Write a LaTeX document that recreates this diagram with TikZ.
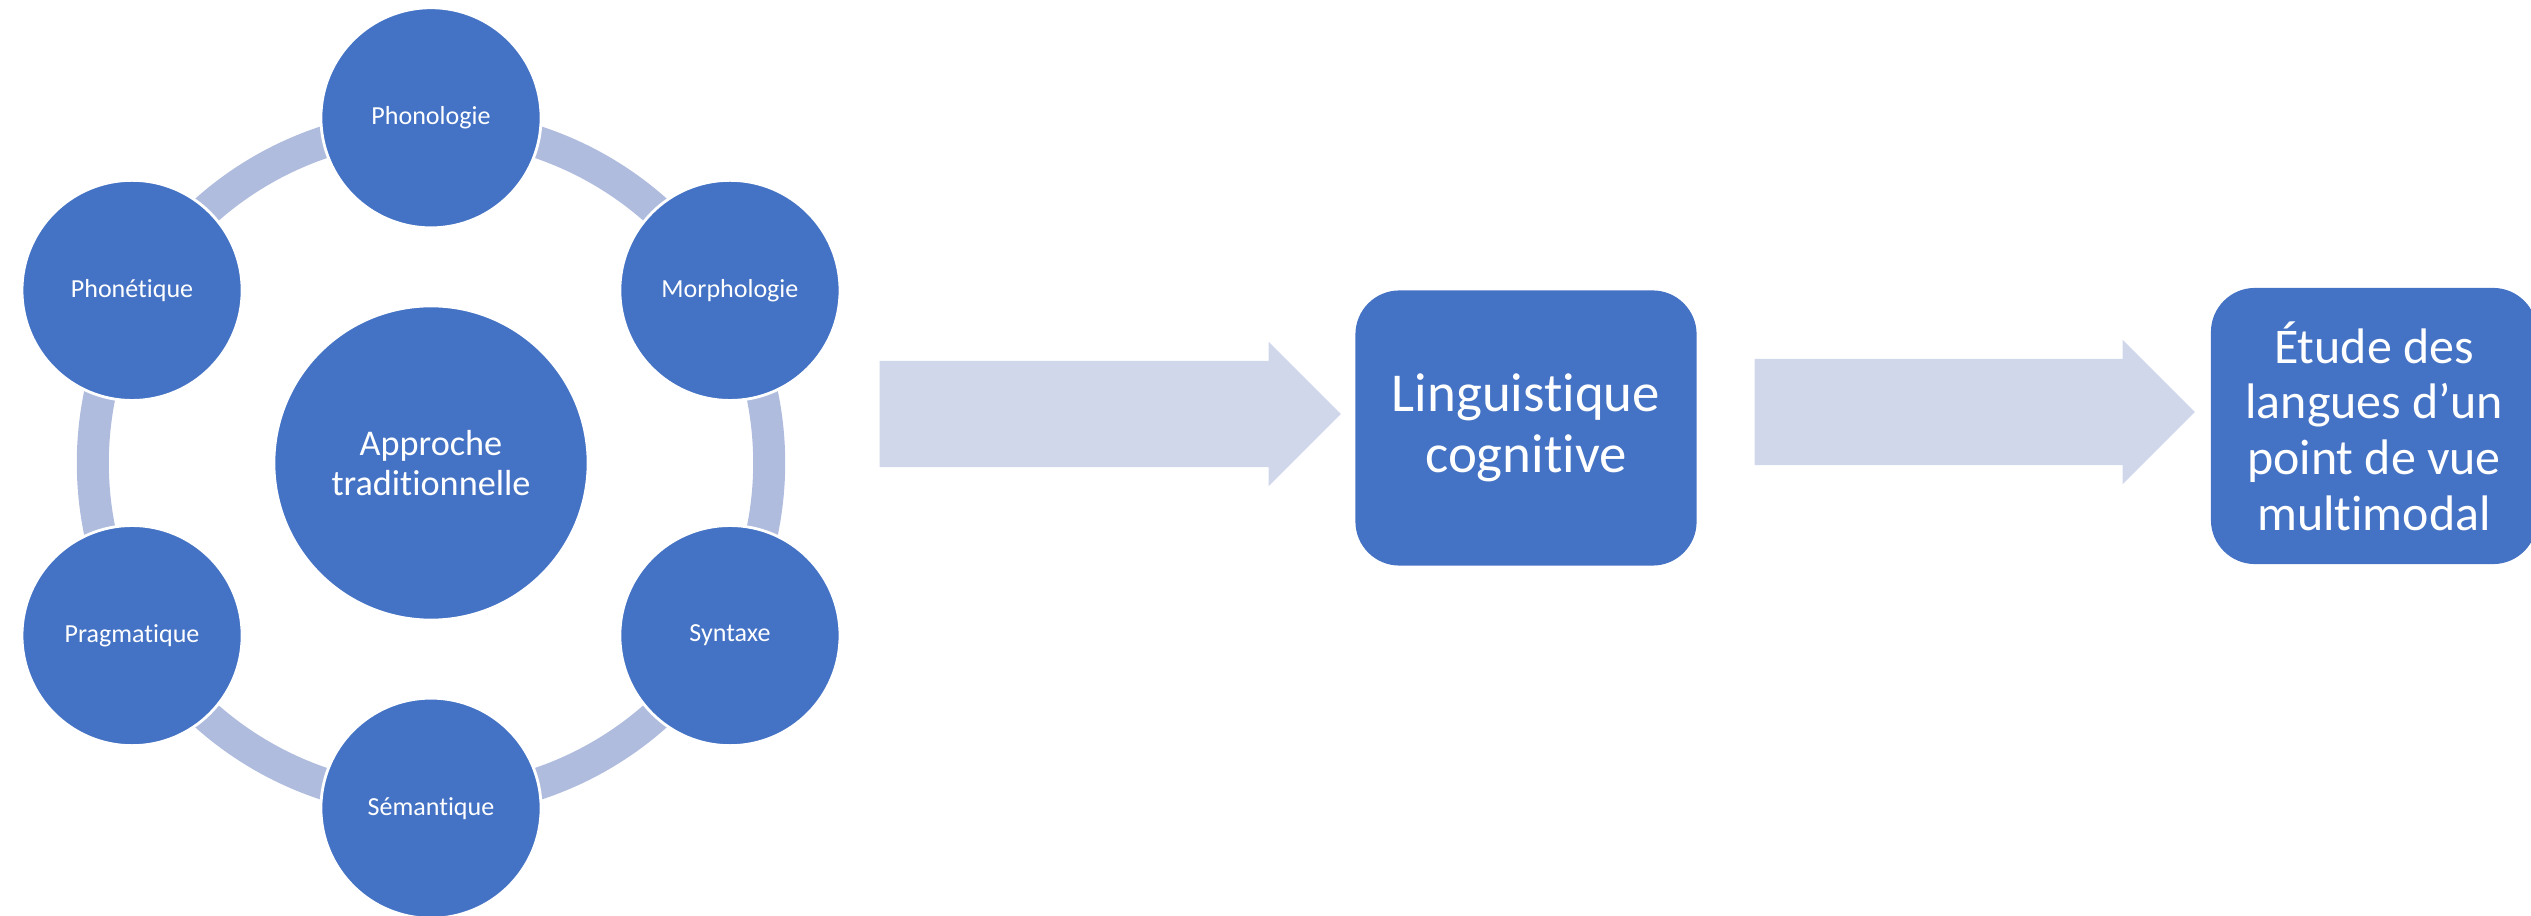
\documentclass[tikz,border=0pt]{standalone}
\usepackage{fontspec}
\setmainfont{Carlito}[Ligatures=NoCommon]
\usepackage{tikz}
\usetikzlibrary{shapes,shapes.arrows}
\definecolor{nodeblue}{HTML}{4472C4}
\definecolor{ringblue}{HTML}{B0BCDE}
\definecolor{arrowblue}{HTML}{D1D7EB}
\tikzstyle{disc}=[circle, fill=nodeblue, draw=white, line width=.8pt, text=white, inner sep=0pt, align=center]
\tikzstyle{petal}=[disc, minimum size=2.2cm, font=\fontsize{7.4}{9}\selectfont]
\tikzstyle{hub}=[disc, minimum size=3.14cm, font=\fontsize{10.3}{11.4}\selectfont]
\tikzstyle{ring}=[line width=.32cm, color=ringblue]
\tikzstyle{card}=[rectangle, rounded corners=.44cm, fill=nodeblue, text=white, align=center, inner sep=0pt]
\tikzstyle{bigarrow}=[single arrow, fill=arrowblue, inner xsep=0pt, inner ysep=.525cm, single arrow head extend=.19cm, anchor=tail]

\begin{document}
\begin{tikzpicture}[x=.01cm, y=-.01cm]
	\useasboundingbox (0,0) rectangle (2531,916);
	\node[hub] (app) at (431,463) {Approche\\traditionnelle};
	\foreach \a in {90,30,-30,-90,-150,150}{
		\draw[ring] ([shift={(\a:3.38cm)}]app.center) arc[start angle=\a, end angle=\a-60, radius=3.38cm];
	}
	\foreach \a/\name/\txt in {90/pho/Phonologie, 30/mor/Morphologie, -30/syn/Syntaxe, -90/sem/Sémantique, -150/pra/Pragmatique, 150/phn/Phonétique}{
		\node[petal] (\name) at ([shift={(\a:3.45cm)}]app.center) {\txt};
	}
	\node[bigarrow, minimum height=4.61cm] (arrA) at (879,414) {};
	\node[card, minimum width=3.41cm, minimum height=2.75cm, font=\fontsize{15.6}{17.4}\selectfont] (cog) at (1526,428) {Linguistique\\cognitive};
	\node[bigarrow, minimum height=4.40cm] (arrB) at (1754,412) {};
	\node[card, minimum width=3.26cm, minimum height=2.76cm, font=\fontsize{14.2}{15.8}\selectfont] (multi) at (2374,426) {Étude des\\langues d’un\\point de vue\\multimodal};
\end{tikzpicture}
\end{document}
